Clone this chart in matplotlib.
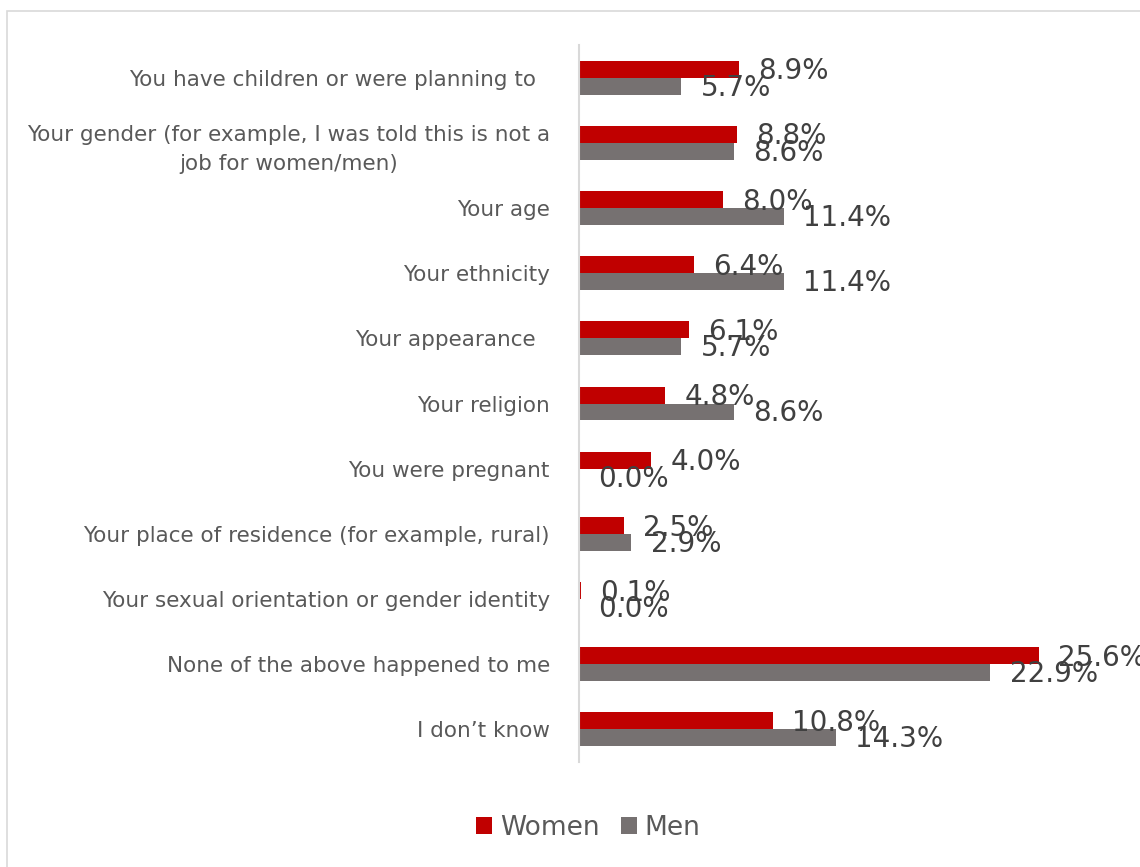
import numpy as np
import matplotlib
matplotlib.use("Agg")
import matplotlib.pyplot as plt
from matplotlib.patches import Rectangle

categories = [
    "You have children or were planning to  ",
    "Your gender (for example, I was told this is not a\njob for women/men)",
    "Your age",
    "Your ethnicity",
    "Your appearance  ",
    "Your religion",
    "You were pregnant",
    "Your place of residence (for example, rural)",
    "Your sexual orientation or gender identity",
    "None of the above happened to me",
    "I don\u2019t know",
]
women = [8.9, 8.8, 8.0, 6.4, 6.1, 4.8, 4.0, 2.5, 0.1, 25.6, 10.8]
men = [5.7, 8.6, 11.4, 11.4, 5.7, 8.6, 0.0, 2.9, 0.0, 22.9, 14.3]

RED = "#C00000"
GREY = "#767171"

plt.rcParams["font.family"] = ["DejaVu Sans"]

fig = plt.figure(figsize=(11.4, 8.67), dpi=100)
ax = fig.add_axes([0.5079, 0.1211, 0.4728, 0.8269])

# thin outer frame of the chart area
fig.patches.append(Rectangle((0.0061, -0.02), 1.1, 1.0073, transform=fig.transFigure,
                             facecolor="none", edgecolor="#D9D9D9", linewidth=1.2))

y = np.arange(len(categories))
h = 0.26
ax.barh(y - h / 2, women, height=h, color=RED, label="Women")
ax.barh(y + h / 2, men, height=h, color=GREY, label="Men")

for yi, w, m in zip(y, women, men):
    ax.annotate(f"{w:.1f}%", (w, yi - h / 2), xytext=(14, -1.5), textcoords="offset points",
                ha="left", va="center", fontsize=20, color="#404040")
    ax.annotate(f"{m:.1f}%", (m, yi + h / 2), xytext=(14, -1.0), textcoords="offset points",
                ha="left", va="center", fontsize=20, color="#404040")

ax.set_xlim(0, 30)
ax.set_ylim(len(categories) - 0.5, -0.5)
ax.set_yticks(y)
ax.set_yticklabels(categories, fontsize=15.5, color="#595959",
                   multialignment="center", linespacing=1.55)
ax.tick_params(axis="y", length=0, pad=21)
ax.set_xticks([])

for side in ["top", "right", "bottom"]:
    ax.spines[side].set_visible(False)
ax.spines["left"].set_color("#D9D9D9")
ax.spines["left"].set_linewidth(1.5)

fig.legend(loc="center", bbox_to_anchor=(0.516, 0.045), ncol=2, frameon=False,
           fontsize=19, labelcolor="#595959", handlelength=0.6, handleheight=0.6,
           handletextpad=0.3, columnspacing=0.8)

fig.savefig("out.png", dpi=100)
